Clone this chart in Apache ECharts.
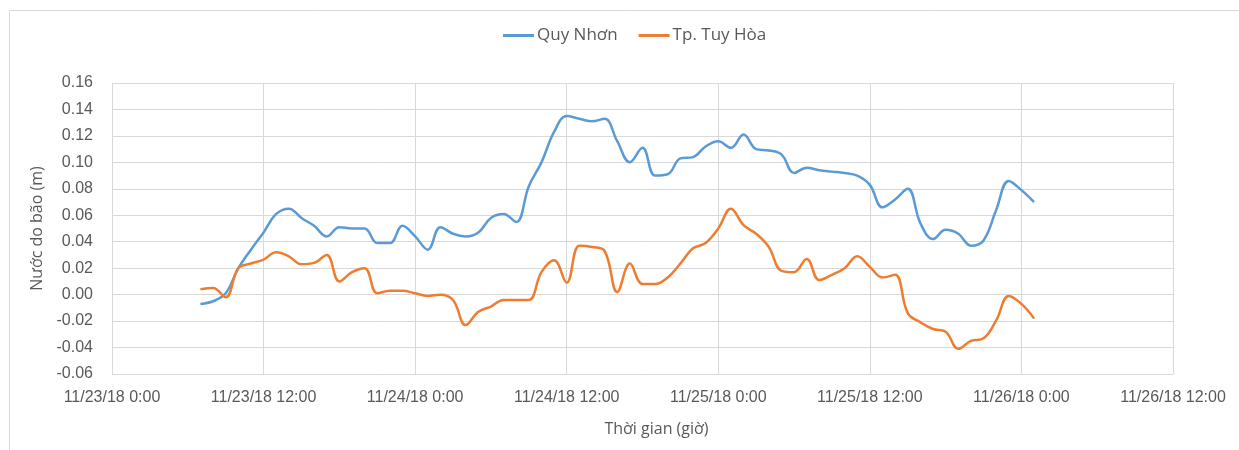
<!DOCTYPE html>
<html>
<head>
<meta charset="utf-8">
<script src="https://cdn.jsdelivr.net/npm/echarts@6/dist/echarts.min.js"></script>
<style>
html,body{margin:0;padding:0;background:#fff;}
#chart{width:1239px;height:450px;}
</style>
</head>
<body>
<div id="chart"></div>
<script>
// Hourly data, first point at 11/23/18 7:00 (hours counted from 11/23/18 0:00)
var startHour = 7;
var seriesNames = ['Quy Nhơn', 'Tp. Tuy Hòa'];
var quyNhon = [
  -0.007, -0.005, 0.001, 0.020, 0.034, 0.047, 0.061, 0.065, 0.058, 0.052,
  0.044, 0.051, 0.050, 0.050, 0.039, 0.039, 0.052, 0.044, 0.034, 0.051,
  0.046, 0.044, 0.047, 0.058, 0.061, 0.055, 0.082, 0.100, 0.123, 0.135,
  0.133, 0.131, 0.133, 0.116, 0.100, 0.111, 0.090, 0.091, 0.103, 0.104,
  0.112, 0.116, 0.111, 0.121, 0.110, 0.109, 0.106, 0.092, 0.096, 0.094,
  0.093, 0.092, 0.090, 0.083, 0.066, 0.072, 0.080, 0.054, 0.042, 0.049,
  0.046, 0.037, 0.041, 0.064, 0.086, 0.079, 0.070
];
var tuyHoa = [
  0.004, 0.005, -0.002, 0.020, 0.0235, 0.0265, 0.032, 0.029, 0.023, 0.024,
  0.030, 0.010, 0.017, 0.020, 0.001, 0.003, 0.003, 0.001, -0.001, 0.000,
  -0.004, -0.023, -0.013, -0.009, -0.004, -0.004, -0.004, 0.017, 0.026, 0.009,
  0.037, 0.036, 0.033, 0.002, 0.0235, 0.008, 0.008, 0.013, 0.0235, 0.035,
  0.039, 0.050, 0.065, 0.0525, 0.046, 0.036, 0.018, 0.017, 0.027, 0.011,
  0.015, 0.020, 0.029, 0.021, 0.013, 0.015, -0.014, -0.021, -0.026, -0.028,
  -0.041, -0.035, -0.033, -0.0195, -0.001, -0.007, -0.018
];
var xTickLabels = ['11/23/18 0:00', '11/23/18 12:00', '11/24/18 0:00', '11/24/18 12:00',
  '11/25/18 0:00', '11/25/18 12:00', '11/26/18 0:00', '11/26/18 12:00'];
var xTickStep = 12;

function toPairs(arr) {
  return arr.map(function (v, i) { return [startHour + i, v]; });
}

var chart = echarts.init(document.getElementById('chart'));
var labelColor = '#595959';
var gridColor = '#D9D9D9';
chart.setOption({
  animation: false,
  backgroundColor: '#fff',
  graphic: [{
    type: 'rect', left: 7, top: 8, silent: true,
    shape: { x: 0.5, y: 0.5, width: 1300, height: 500 },
    style: { fill: 'none', stroke: '#D9D9D9', lineWidth: 1 }
  }],
  color: ['#5B9BD5', '#ED7D31'],
  legend: {
    top: 22, left: 498,
    itemWidth: 31, itemHeight: 3, itemGap: 21,
    icon: 'rect',
    textStyle: { fontFamily: 'Open Sans', fontSize: 17, color: labelColor, padding: [0, 0, 0, -2] },
    data: seriesNames
  },
  grid: { left: 112, right: 66, top: 83, bottom: 76, containLabel: false },
  xAxis: {
    type: 'value', min: 0, max: (xTickLabels.length - 1) * xTickStep, interval: xTickStep,
    name: 'Thời gian (giờ)', nameLocation: 'middle', nameGap: 47,
    nameTextStyle: { fontFamily: 'Open Sans', fontSize: 16, color: labelColor, padding: [0, 0, 0, 28] },
    axisLine: { show: false }, axisTick: { show: false },
    splitLine: { show: true, lineStyle: { color: gridColor, width: 1 } },
    axisLabel: {
      margin: 16, fontFamily: 'Liberation Sans', fontSize: 16, color: labelColor,
      formatter: function (v) { return xTickLabels[Math.round(v / xTickStep)] || ''; }
    }
  },
  yAxis: {
    type: 'value', min: -0.06, max: 0.16, interval: 0.02,
    name: 'Nước do bão (m)', nameLocation: 'middle', nameGap: 64,
    nameTextStyle: { fontFamily: 'Open Sans', fontSize: 16, color: labelColor },
    axisLine: { show: false }, axisTick: { show: false },
    splitLine: { show: true, lineStyle: { color: gridColor, width: 1 } },
    axisLabel: {
      margin: 19, fontFamily: 'Liberation Sans', fontSize: 16, color: labelColor,
      formatter: function (v) { return v.toFixed(2); }
    }
  },
  series: [
    { name: seriesNames[0], type: 'line', data: toPairs(quyNhon), smooth: 0.4, showSymbol: false,
      lineStyle: { width: 2.5 } },
    { name: seriesNames[1], type: 'line', data: toPairs(tuyHoa), smooth: 0.4, showSymbol: false,
      lineStyle: { width: 2.5 } }
  ]
});
</script>
</body>
</html>
